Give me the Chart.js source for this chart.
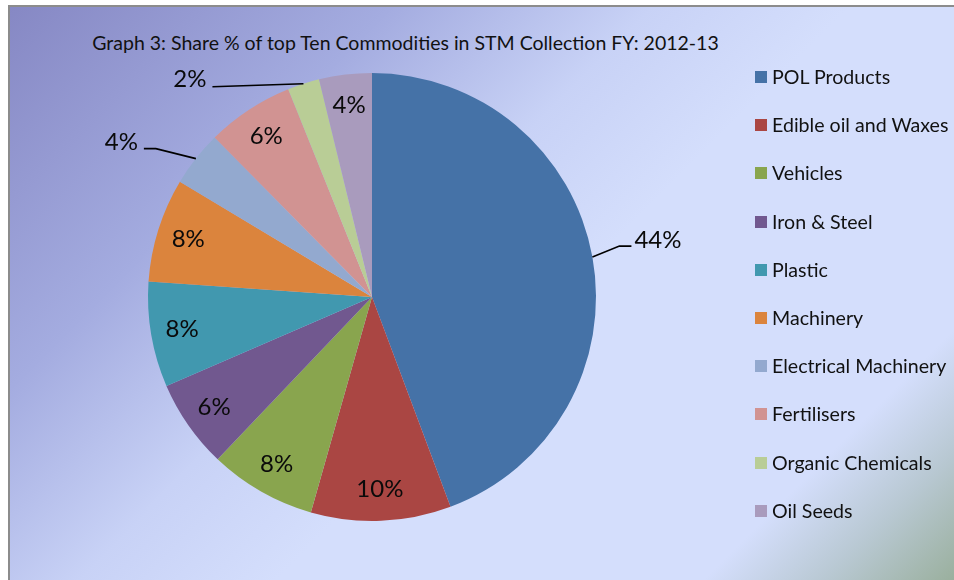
<!DOCTYPE html>
<html>
<head>
<meta charset="utf-8">
<script src="https://cdn.jsdelivr.net/npm/chart.js@4.4.0/dist/chart.umd.min.js"></script>
<style>
  html, body { margin: 0; padding: 0; background: #ffffff; }
  #wrap { position: relative; width: 954px; height: 580px; overflow: hidden; background: #fff; }
  #panel {
    position: absolute; left: 8px; top: 5px; width: 946px; height: 580px;
    border-left: 2px solid #8c8c8c; border-top: 2px solid #8c8c8c;
    background: linear-gradient(135deg, #8688c4 0%, #a4ace0 25%, #c8d2f6 42%, #d4defc 55%, #d4defc 83%, #b8c8d2 91%, #98ae9a 100%);
  }
  #title {
    position: absolute; left: 0; width: 811px; top: 31px; text-align: center;
    font-family: Lato, "Open Sans", sans-serif; font-size: 19.5px; color: #111;
  }
  #legend { position: absolute; left: 755px; top: 65px; font-family: Lato, sans-serif; font-size: 19.6px; color: #111; }
  .li { position: relative; height: 48.2px; }
  .sw { position: absolute; left: 0; top: 6px; width: 12px; height: 12px; }
  .lt { position: absolute; left: 17px; top: -1px; white-space: nowrap; line-height: 26px; }
  canvas { position: absolute; left: 0; top: 0; }
</style>
</head>
<body>
<div id="wrap">
  <div id="panel"></div>
  <div id="title"></div>
  <canvas id="c" width="954" height="580"></canvas>
  <div id="legend"></div>
</div>
<script>
const titleText = "Graph 3: Share % of top Ten Commodities in STM Collection FY: 2012-13";
const categories = ["POL Products", "Edible oil and Waxes", "Vehicles", "Iron & Steel", "Plastic",
  "Machinery", "Electrical Machinery", "Fertilisers", "Organic Chemicals", "Oil Seeds"];
const shares = [44.3, 10.1, 7.7, 6.4, 7.6, 7.5, 4.0, 6.3, 2.3, 3.8];
const colors = ["#4572A7", "#AA4643", "#89A54E", "#71588F", "#4198AF",
  "#DB843D", "#93A9CF", "#D19392", "#B9CD96", "#A99BBD"];

// label placement styles (offsets of leader lines for outside labels)
const outsideLabels = {
  0: { elbow: [27, -11], end: [39, -11], align: "left", dy: -6 },
  6: { elbow: [-40, -10], end: [-52, -10], align: "right", dy: -6 },
  8: { elbow: [-91, 3], end: [-91, 3], align: "right", dy: -7 }
};

document.getElementById("title").textContent = titleText;
const leg = document.getElementById("legend");
categories.forEach((c, i) => {
  const d = document.createElement("div"); d.className = "li";
  d.innerHTML = '<div class="sw" style="background:' + colors[i] + '"></div><div class="lt"></div>';
  d.querySelector(".lt").textContent = c;
  leg.appendChild(d);
});

const labelPlugin = {
  id: "pieLabels",
  afterDatasetsDraw(chart) {
    const ctx = chart.ctx;
    const meta = chart.getDatasetMeta(0);
    const data = chart.data.datasets[0].data;
    const total = data.reduce((a, b) => a + b, 0);
    ctx.save();
    ctx.font = "24px Lato, sans-serif";
    ctx.fillStyle = "#0a0a0a";
    ctx.textBaseline = "middle";
    meta.data.forEach((arc, i) => {
      const p = arc.getProps(["x", "y", "startAngle", "endAngle", "outerRadius"], true);
      const mid = (p.startAngle + p.endAngle) / 2;
      const txt = Math.round(data[i] / total * 100) + "%";
      const o = outsideLabels[i];
      if (o) {
        const sx = p.x + Math.cos(mid) * p.outerRadius;
        const sy = p.y + Math.sin(mid) * p.outerRadius;
        const ex = sx + o.elbow[0], ey = sy + o.elbow[1];
        const fx = sx + o.end[0], fy = sy + o.end[1];
        ctx.strokeStyle = "#000"; ctx.lineWidth = 1.6;
        ctx.beginPath(); ctx.moveTo(sx, sy); ctx.lineTo(ex, ey); ctx.lineTo(fx, fy); ctx.stroke();
        ctx.textAlign = o.align;
        ctx.fillText(txt, fx + (o.align === "left" ? 3 : -6), fy + o.dy);
      } else {
        const r = p.outerRadius * 0.86;
        ctx.textAlign = "center";
        ctx.fillText(txt, p.x + Math.cos(mid) * r, p.y + Math.sin(mid) * r);
      }
    });
    ctx.restore();
  }
};

new Chart(document.getElementById("c"), {
  type: "pie",
  data: { labels: categories, datasets: [{ data: shares, backgroundColor: colors, borderWidth: 0 }] },
  options: {
    responsive: false, animation: false,
    layout: { padding: { left: 148, right: 358, top: 73, bottom: 59 } },
    plugins: { legend: { display: false }, tooltip: { enabled: false }, title: { display: false } }
  },
  plugins: [labelPlugin]
});
</script>
</body>
</html>
